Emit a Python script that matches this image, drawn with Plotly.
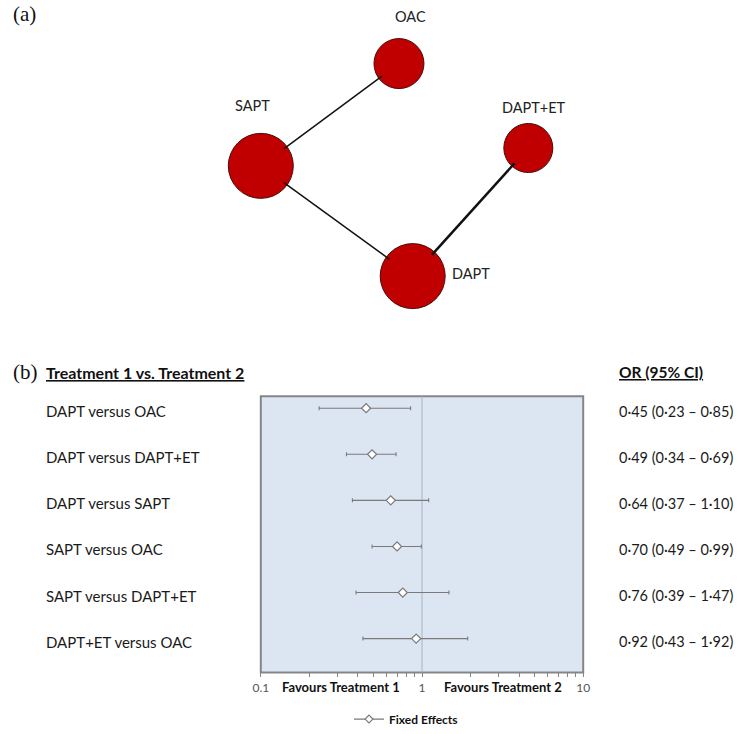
import numpy as np
import plotly.graph_objects as go

W, H = 746, 734

# ---------------- data: network ----------------
node_names = ["OAC", "SAPT", "DAPT+ET", "DAPT"]
node_x = [399, 258, 531, 413]          # layout position (px units of network panel)
node_y = [64, 167, 149, 278]
node_size = [50, 65, 49, 65]            # diameter
edges = [("SAPT", "OAC"), ("SAPT", "DAPT"), ("DAPT+ET", "DAPT")]
edge_width = [1.5, 1.5, 2.5]
label_x = [411, 250, 537, 473]
label_y = [17, 106, 108, 275]

# ---------------- data: forest ----------------
comparisons = ["DAPT versus OAC", "DAPT versus DAPT+ET", "DAPT versus SAPT",
               "SAPT versus OAC", "SAPT versus DAPT+ET", "DAPT+ET versus OAC"]
odds_ratio = [0.45, 0.49, 0.64, 0.70, 0.76, 0.92]
ci_low = [0.23, 0.34, 0.37, 0.49, 0.39, 0.43]
ci_high = [0.85, 0.69, 1.10, 0.99, 1.47, 1.92]
tick_vals = [0.1, 1, 10]
tick_text = ["0.1", "1", "10"]

FONT = "Lato"
fig = go.Figure()

# ---------- network panel ----------
pos = {n: (x, y, s) for n, x, y, s in zip(node_names, node_x, node_y, node_size)}
fig.add_trace(go.Scatter(
    x=node_x, y=node_y, mode="markers", xaxis="x2", yaxis="y2",
    marker=dict(size=node_size, color="#c00000", opacity=1,
                line=dict(color="#4a0a0a", width=1)),
    hoverinfo="text", text=node_names, showlegend=False))
for (a, b), lw in zip(edges, edge_width):
    xa, ya, sa = pos[a]
    xb, yb, sb = pos[b]
    d = np.hypot(xb - xa, yb - ya)
    ux, uy = (xb - xa) / d, (yb - ya) / d
    ra, rb = sa / 2 - 3.5, sb / 2 - 3.5
    fig.add_trace(go.Scatter(
        x=[xa + ux * ra, xb - ux * rb], y=[ya + uy * ra, yb - uy * rb],
        mode="lines", xaxis="x2", yaxis="y2",
        line=dict(color="#111111", width=lw), hoverinfo="skip", showlegend=False))
for n, lx, ly in zip(node_names, label_x, label_y):
    fig.add_annotation(x=lx, y=ly, xref="x2", yref="y2", text=n, showarrow=False,
                       xanchor="center", yanchor="middle",
                       font=dict(family=FONT, size=14.5, color="#222222"))

# ---------- forest panel ----------
or_arr = np.array(odds_ratio)
fig.add_trace(go.Scatter(
    x=odds_ratio, y=comparisons, mode="markers",
    marker=dict(symbol="diamond", size=7, color="white", line=dict(color="#7a7a7a", width=1.2)),
    error_x=dict(type="data", symmetric=False,
                 array=list(np.array(ci_high) - or_arr),
                 arrayminus=list(or_arr - np.array(ci_low)),
                 color="#7a7a7a", thickness=1.1, width=2),
    showlegend=False, hoverinfo="x+y"))
# legend entry
fig.add_trace(go.Scatter(
    x=[None], y=[None], mode="lines+markers", name="Fixed Effects",
    line=dict(color="#7a7a7a", width=1.2),
    marker=dict(symbol="diamond", size=6, color="white", line=dict(color="#7a7a7a", width=1.2)),
    showlegend=True))

x0, x1 = 258 / W, 587 / W
y0, y1 = 1 - 677 / H, 1 - 399 / H

fig.add_shape(type="rect", xref="x domain", yref="y domain", x0=0, x1=1, y0=0, y1=1,
              fillcolor="#dce6f2", line=dict(color="#858585", width=2), layer="below")
fig.add_shape(type="line", xref="x", yref="y domain", x0=1, x1=1, y0=0, y1=1,
              line=dict(color="#a6b4c4", width=1), layer="below")

for c in comparisons:
    fig.add_annotation(x=37 / W, y=c, xref="paper", yref="y", xanchor="left", yanchor="middle",
                       yshift=-3, text=c, showarrow=False,
                       font=dict(family=FONT, size=15, color="#1a1a1a"))
for c, o, lo, hi in zip(comparisons, odds_ratio, ci_low, ci_high):
    f = lambda v: f"{v:.2f}".replace(".", "\u00b7")
    fig.add_annotation(x=622 / W, y=c, xref="paper", yref="y", xanchor="left", yanchor="middle",
                       yshift=-3, text=f"{f(o)} ({f(lo)} \u2013 {f(hi)})", showarrow=False,
                       font=dict(family=FONT, size=14.5, color="#1a1a1a"))

# headers
fig.add_annotation(x=3 / W, y=1 - 375 / H, xref="paper", yref="paper", xanchor="left", yanchor="middle",
                   text="(b)", showarrow=False, font=dict(family="Liberation Serif", size=21, color="#111"))
fig.add_annotation(x=3 / W, y=1 - 14 / H, xref="paper", yref="paper", xanchor="left", yanchor="middle",
                   text="(a)", showarrow=False, font=dict(family="Liberation Serif", size=21, color="#111"))
fig.add_annotation(x=37 / W, y=1 - 375 / H, xref="paper", yref="paper", xanchor="left", yanchor="middle",
                   text="<b><u>Treatment 1 vs. Treatment 2</u></b>", showarrow=False,
                   font=dict(family=FONT, size=16, color="#111"))
fig.add_annotation(x=622 / W, y=1 - 375 / H, xref="paper", yref="paper", xanchor="left", yanchor="middle",
                   text="<b><u>OR (95% CI)</u></b>", showarrow=False,
                   font=dict(family=FONT, size=15.5, color="#111"))
fig.add_annotation(x=340 / W, y=1 - 692 / H, xref="paper", yref="paper", xanchor="center", yanchor="middle",
                   text="<b>Favours Treatment 1</b>", showarrow=False,
                   font=dict(family=FONT, size=13, color="#111"))
fig.add_annotation(x=505 / W, y=1 - 692 / H, xref="paper", yref="paper", xanchor="center", yanchor="middle",
                   text="<b>Favours Treatment 2</b>", showarrow=False,
                   font=dict(family=FONT, size=13, color="#111"))

minor_vals = [k * 10.0 ** e for e in (-1, 0) for k in range(2, 10)]

fig.update_layout(
    width=W, height=H, margin=dict(l=0, r=0, t=0, b=0),
    paper_bgcolor="white", plot_bgcolor="rgba(0,0,0,0)",
    font=dict(family=FONT),
    xaxis=dict(type="log", domain=[x0, x1], range=[-1, 1], tickvals=tick_vals, ticktext=tick_text,
               ticks="outside", ticklen=4, tickcolor="#858585", tickwidth=1,
               tickfont=dict(family=FONT, size=12, color="#555555"),
               showgrid=False, zeroline=False, showline=False,
               minor=dict(tickvals=minor_vals, ticks="outside", ticklen=4, tickcolor="#858585", showgrid=False)),
    yaxis=dict(domain=[y0, y1], type="category", categoryorder="array", categoryarray=comparisons,
               range=[5.733, -0.259], showticklabels=False, ticks="", showgrid=False,
               zeroline=False, showline=False),
    xaxis2=dict(domain=[0, 1], range=[0, W], visible=False, anchor="y2"),
    yaxis2=dict(domain=[1 - 330 / H, 1], range=[330, 0], visible=False, anchor="x2"),
    legend=dict(x=348 / W, y=1 - 724 / H, xanchor="left", yanchor="middle",
                font=dict(family=FONT, size=12, color="#111", weight="bold"),
                bgcolor="rgba(0,0,0,0)", itemwidth=30),
    showlegend=True,
)

fig.write_html("out.html", config={"displayModeBar": False},
               post_script="document.body.style.margin='0px';")
